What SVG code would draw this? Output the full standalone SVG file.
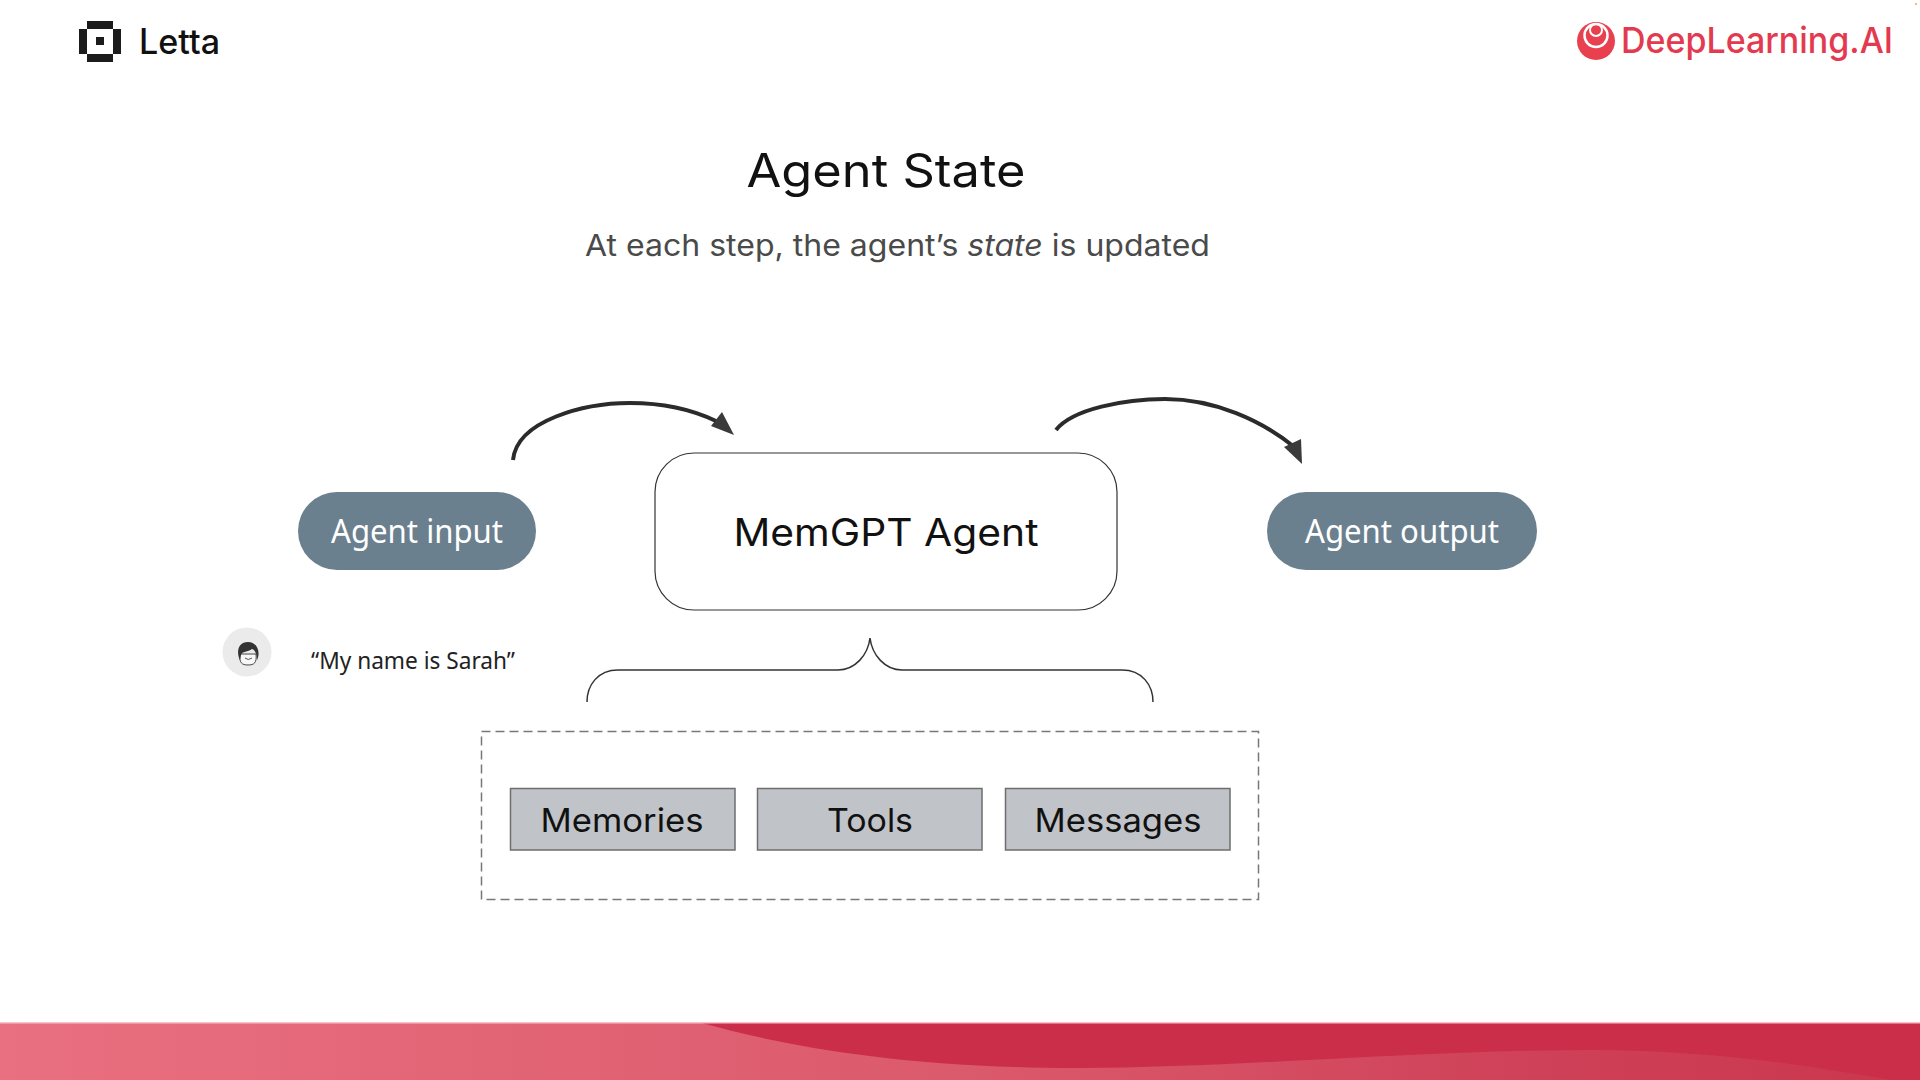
<svg xmlns="http://www.w3.org/2000/svg" width="1920" height="1080" viewBox="0 0 1920 1080">
<style>
.geo{font-family:"Inter","Liberation Sans",sans-serif;fill:#111}
.plex{font-family:"Noto Sans","Liberation Sans",sans-serif}
.pill{fill:#6b808e}
.pilltext{fill:#fff;font-size:32px;text-anchor:middle}
.box{fill:#c0c3c7;stroke:#6e6e6e;stroke-width:1.5}
.boxtext{font-size:33px;text-anchor:middle}
.arc{fill:none;stroke:#2b2b2b;stroke-width:4}
.head{fill:#3a3a3a}
</style>
<defs>
<linearGradient id="band" x1="0" x2="1" y1="0" y2="0"><stop offset="0" stop-color="#e97080"/><stop offset="0.5" stop-color="#db5a6c"/><stop offset="0.8" stop-color="#cf4158"/><stop offset="1" stop-color="#c9374c"/></linearGradient>
</defs>
<rect width="1920" height="1080" fill="#fff"/>
<g id="footer">
<rect x="0" y="1023" width="1920" height="57" fill="url(#band)"/>
<path d="M702 1023C780 1045 900 1068 1078 1068C1230 1068 1420 1050 1592 1050C1720 1050 1820 1068 1892 1080H1920V1023Z" fill="#cb2e48"/>
<rect x="0" y="1022" width="1920" height="1.500" fill="#f6c3cb"/>
</g>
<g id="letta-logo">
<path fill="#1c1c1c" d="M87 21H113V29H87ZM87 54H113V62H87ZM79 29H87V54H79ZM113 29H121V54H113ZM96 37H104V45H96Z"/>
<text x="139" y="54" class="geo" font-size="35" font-weight="500" textLength="81" lengthAdjust="spacingAndGlyphs">Letta</text>
</g>
<g id="deeplearning-logo">
<circle cx="1596" cy="41" r="19" fill="#e8404f"/>
<circle cx="1596" cy="35.500" r="11.500" fill="none" stroke="#fff" stroke-width="2.500"/>
<circle cx="1596" cy="30" r="6" fill="none" stroke="#fff" stroke-width="2"/>
<text x="1621" y="53" font-family="Inter,'Liberation Sans',sans-serif" font-size="36" font-weight="500" fill="#e33a50" textLength="272" lengthAdjust="spacingAndGlyphs">DeepLearning.AI</text>
<circle cx="1916" cy="4" r="1" fill="#eda35e"/>
</g>
<g id="title">
<text x="886" y="187" class="geo" font-size="46" text-anchor="middle" textLength="279" lengthAdjust="spacingAndGlyphs">Agent State</text>
<text x="585" y="256" font-family="Inter,'Liberation Sans',sans-serif" font-size="30" fill="#4a4a4a" textLength="625" lengthAdjust="spacingAndGlyphs">At each step, the agent’s <tspan font-style="italic">state</tspan> is updated</text>
</g>
<g id="connectors">
<path class="arc" d="M513 460C517 420 585 403 630 403C665 403 695 411 716 421"/>
<polygon class="head" points="734,435 722,412 711,426"/>
<path class="arc" d="M1056 430C1072 409 1125 399 1165 399C1215 399 1262 421 1293 446"/>
<polygon class="head" points="1302,464 1301,439 1284,447"/>
</g>
<g id="agent-input"><rect class="pill" x="298" y="492" width="238" height="78" rx="39"/><text class="plex pilltext" x="417" y="543" textLength="172" lengthAdjust="spacingAndGlyphs">Agent input</text></g>
<g id="agent-output"><rect class="pill" x="1267" y="492" width="270" height="78" rx="39"/><text class="plex pilltext" x="1402" y="543" textLength="194" lengthAdjust="spacingAndGlyphs">Agent output</text></g>
<g id="memgpt-agent"><rect x="655" y="453" width="462" height="157" rx="39" fill="#fff" stroke="#333" stroke-width="1.200"/><text class="geo" x="886" y="546" font-size="38" text-anchor="middle" textLength="305" lengthAdjust="spacingAndGlyphs">MemGPT Agent</text></g>
<g id="user">
<circle cx="247" cy="652" r="24.500" fill="#ebebeb"/>
<path d="M240 654C239 663 242 665 248 665C254 665 257 663 256 654Z" fill="#f7f7f7" stroke="#444" stroke-width="1"/>
<path d="M240 660C236 652 238 642 248 642C257 642 261 652 257 660C257 654 255 650 252 649C248 652 242 651 241 655Z" fill="#333"/>
<path d="M245 658Q248 661 252 658" fill="none" stroke="#555" stroke-width="1"/>
<text class="plex" x="311" y="669" font-size="23" fill="#222" textLength="204" lengthAdjust="spacingAndGlyphs">“My name is Sarah”</text>
</g>
<g id="brace"><path d="M587 702C587 685 598 670 618 670H838C855 670 868 655 870 638C872 655 885 670 902 670H1122C1142 670 1153 685 1153 702" fill="none" stroke="#333" stroke-width="1.500"/></g>
<g id="state-group"><rect x="481.500" y="731.500" width="777" height="168" fill="none" stroke="#777" stroke-width="1.500" stroke-dasharray="9 5"/></g>
<g id="memories"><rect class="box" x="510.500" y="788.500" width="224.500" height="61.500"/><text class="geo boxtext" x="622" y="832" textLength="163" lengthAdjust="spacingAndGlyphs">Memories</text></g>
<g id="tools"><rect class="box" x="757.500" y="788.500" width="224.500" height="61.500"/><text class="geo boxtext" x="870" y="832" textLength="86" lengthAdjust="spacingAndGlyphs">Tools</text></g>
<g id="messages"><rect class="box" x="1005.500" y="788.500" width="224.500" height="61.500"/><text class="geo boxtext" x="1118" y="832" textLength="167" lengthAdjust="spacingAndGlyphs">Messages</text></g>
</svg>
